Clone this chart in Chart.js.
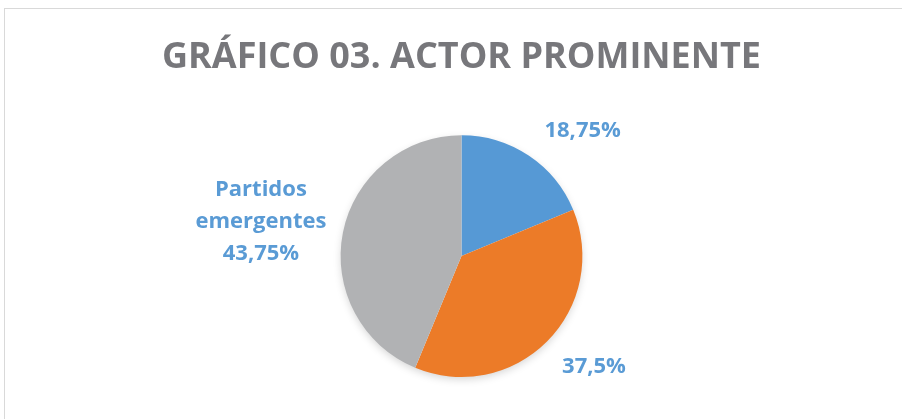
<!DOCTYPE html>
<html lang="es">
<head>
    <meta charset="UTF-8">
    <title>Gráfico 03. Actor prominente</title>
    <script src="https://cdn.jsdelivr.net/npm/chart.js"></script>
    <style>
        html, body { margin: 0; padding: 0; background: #fff; overflow: hidden; }
        .frame { position: absolute; left: 4px; top: 8px; width: 898px; height: 411px;
                 border-top: 1px solid #d9d9d9; border-left: 1px solid #d9d9d9; }
        .chart-box { position: absolute; left: 0; top: 0; width: 902px; height: 419px; }
    </style>
</head>
<body>
    <div class="frame"></div>
    <div class="chart-box"><canvas id="pieChart" width="902" height="419"></canvas></div>

    <script>
        // data
        const categories = ['', '', 'Partidos emergentes'];
        const values = [18.75, 37.5, 43.75];
        const sliceColors = ['#5699d5', '#ec7b28', '#b1b2b4'];
        // where each data label sits, relative to the slice's outer edge at mid-angle
        const labelOffsets = [[54, -25], [47, 25], [-82, -11]];

        const fmt = v => String(v).replace('.', ',') + '%';

        // soft shadow under the pie, like the office original
        const pieShadow = {
            id: 'pieShadow',
            beforeDatasetsDraw(chart) {
                const arc = chart.getDatasetMeta(0).data[0];
                if (!arc) return;
                const ctx = chart.ctx;
                ctx.save();
                ctx.shadowColor = 'rgba(0,0,0,0.18)';
                ctx.shadowBlur = 9;
                ctx.shadowOffsetY = 3;
                ctx.fillStyle = '#ffffff';
                ctx.beginPath();
                ctx.arc(arc.x, arc.y, arc.outerRadius - 1, 0, Math.PI * 2);
                ctx.fill();
                ctx.restore();
            }
        };

        // data labels (value, plus category name where it has one)
        const sliceLabels = {
            id: 'sliceLabels',
            afterDatasetsDraw(chart) {
                const ctx = chart.ctx;
                const meta = chart.getDatasetMeta(0);
                ctx.save();
                ctx.font = 'bold 22px "Open Sans"';
                ctx.fillStyle = '#5a9bd5';
                ctx.textAlign = 'center';
                ctx.textBaseline = 'middle';
                meta.data.forEach((arc, i) => {
                    const mid = (arc.startAngle + arc.endAngle) / 2;
                    const ex = arc.x + Math.cos(mid) * arc.outerRadius;
                    const ey = arc.y + Math.sin(mid) * arc.outerRadius;
                    const cx = ex + labelOffsets[i][0];
                    const cy = ey + labelOffsets[i][1];
                    const lines = categories[i]
                        ? categories[i].split(' ').concat([fmt(values[i])])
                        : [fmt(values[i])];
                    const lh = 32;
                    const y0 = cy - (lines.length - 1) * lh / 2;
                    lines.forEach((t, k) => ctx.fillText(t, cx, y0 + k * lh));
                });
                ctx.restore();
            }
        };

        new Chart(document.getElementById('pieChart'), {
            type: 'pie',
            data: {
                labels: categories,
                datasets: [{
                    data: values,
                    backgroundColor: sliceColors,
                    borderWidth: 0
                }]
            },
            options: {
                responsive: false,
                animation: false,
                layout: { padding: { left: 21, right: 0, top: 0, bottom: 42 } },
                plugins: {
                    legend: { display: false },
                    tooltip: { enabled: false },
                    title: {
                        display: true,
                        text: 'GRÁFICO 03. ACTOR PROMINENTE',
                        color: '#77777b',
                        font: { family: '"Open Sans"', size: 36, weight: 'bold', lineHeight: 1.2 },
                        padding: { top: 36, bottom: 56 }
                    }
                }
            },
            plugins: [pieShadow, sliceLabels]
        });
    </script>
</body>
</html>
